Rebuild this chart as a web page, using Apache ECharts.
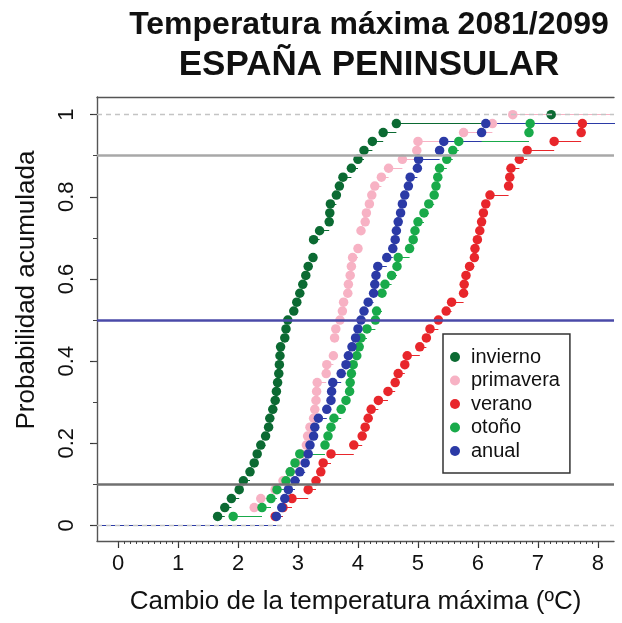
<!DOCTYPE html>
<html>
<head>
<meta charset="utf-8">
<script src="https://cdn.jsdelivr.net/npm/echarts@6/dist/echarts.min.js"></script>
<style>
html,body{margin:0;padding:0;background:#fff;}
#chart{width:622px;height:623px;}
</style>
</head>
<body>
<div id="chart"></div>
<script>
// ---- data (sorted values, 46 per series) ----
const seriesNames = ['invierno', 'primavera', 'verano', 'otoño', 'anual'];
const invierno = [1.66,1.78,1.89,2.02,2.09,2.20,2.27,2.32,2.38,2.46,2.51,2.53,2.58,2.62,2.64,2.66,2.68,2.69,2.70,2.71,2.78,2.80,2.83,2.93,2.98,3.03,3.08,3.13,3.17,3.25,3.26,3.26,3.36,3.52,3.53,3.54,3.64,3.69,3.75,3.89,4.00,4.10,4.24,4.42,4.64,7.22];
const primavera = [2.27,2.27,2.38,2.62,2.75,2.87,2.97,3.05,3.14,3.16,3.20,3.26,3.28,3.30,3.31,3.32,3.47,3.48,3.59,3.61,3.61,3.63,3.70,3.74,3.76,3.83,3.84,3.87,3.89,3.91,4.00,4.05,4.05,4.12,4.14,4.19,4.23,4.28,4.39,4.51,4.74,4.98,5.00,5.76,6.24,6.58];
const verano = [2.62,2.75,2.90,3.17,3.30,3.38,3.42,3.55,3.93,4.07,4.12,4.17,4.22,4.34,4.50,4.62,4.67,4.78,4.82,5.03,5.14,5.20,5.34,5.47,5.56,5.76,5.77,5.80,5.86,5.94,5.95,5.99,6.03,6.06,6.09,6.13,6.20,6.51,6.53,6.55,6.69,6.82,7.27,7.72,7.74,8.60];
const otono = [1.92,2.40,2.55,2.65,2.80,2.87,2.95,3.03,3.45,3.50,3.55,3.60,3.72,3.80,3.86,3.87,3.89,3.92,3.98,4.02,4.05,4.15,4.29,4.31,4.40,4.40,4.45,4.56,4.65,4.67,4.86,4.92,4.95,5.00,5.10,5.18,5.27,5.30,5.33,5.36,5.48,5.58,5.68,6.85,6.87,8.60];
const anual = [2.64,2.73,2.78,2.84,2.95,3.03,3.12,3.17,3.20,3.26,3.28,3.34,3.48,3.55,3.56,3.58,3.72,3.80,3.84,3.90,3.96,4.00,4.05,4.10,4.17,4.26,4.28,4.30,4.33,4.48,4.58,4.62,4.64,4.67,4.71,4.74,4.78,4.84,4.87,4.99,5.01,5.36,5.43,6.06,6.13,8.60];
const xTickValues = [0,1,2,3,4,5,6,7,8];
const yTickValues = [0,0.2,0.4,0.6,0.8,1];
const yTickLabels = ['0','0.2','0.4','0.6','0.8','1'];
const refLevels = [0.1, 0.5, 0.9];
const titleLine1 = 'Temperatura máxima 2081/2099';
const titleLine2 = 'ESPAÑA PENINSULAR';
const xTitle = 'Cambio de la temperatura máxima (ºC)';
const yTitle = 'Probabilidad acumulada';

// ---- presentation ----
const colors = ['#0b6a32', '#f7b2c4', '#e8262b', '#19aa4a', '#2b3aa6'];
const XMIN = -0.35, XMAX = 8.267, YMIN = -0.038, YMAX = 1.043;
const FONT = '"Liberation Sans", Arial, Helvetica, sans-serif';

const allData = [invierno, primavera, verano, otono, anual];

function ecdf(vals) {
  const v = vals.slice().sort((a, b) => a - b);
  const n = v.length;
  const knots = [];
  for (let i = 0; i < n; i++) {
    if (i < n - 1 && v[i + 1] === v[i]) continue;
    knots.push([v[i], (i + 1) / n]);
  }
  return knots;
}

const minorX = [];
for (let k = 0; k <= 80; k++) minorX.push(+(k / 10).toFixed(2));
const minorY = [];
for (let k = 0; k <= 10; k++) minorY.push(+(k / 10).toFixed(2));

const series = [];
series.push({
  type: 'line', data: [], silent: true, z: 1,
  markLine: {
    silent: true, symbol: 'none', label: { show: false }, animation: false,
    data: [
      { yAxis: refLevels[0], lineStyle: { color: '#707070', width: 2.5, type: 'solid' } },
      { yAxis: refLevels[1], lineStyle: { color: '#4a4aa8', width: 2.5, type: 'solid' } },
      { yAxis: refLevels[2], lineStyle: { color: '#a8a8a8', width: 2.5, type: 'solid' } }
    ]
  }
});
allData.forEach((vals, si) => {
  const knots = ecdf(vals);
  const segs = [{ coords: [[XMIN, 0], [knots[0][0], 0]] }];
  knots.forEach((kn, k) => {
    const xEnd = k < knots.length - 1 ? knots[k + 1][0] : Math.max(XMAX, kn[0]);
    segs.push({ coords: [[kn[0], kn[1]], [xEnd, kn[1]]] });
  });
  series.push({
    type: 'lines', name: seriesNames[si] + '_step', coordinateSystem: 'cartesian2d',
    data: segs, silent: true, z: 2, clip: true,
    lineStyle: { color: colors[si], width: 1, opacity: 1 }
  });
});
series.push({
  type: 'line', data: [], silent: true, z: 3,
  markLine: {
    silent: true, symbol: 'none', label: { show: false }, animation: false,
    lineStyle: { color: '#c4c4c4', width: 1.3, type: [5, 4] },
    data: [{ yAxis: 0 }, { yAxis: 1 }]
  }
});
allData.forEach((vals, si) => {
  series.push({
    type: 'scatter', name: seriesNames[si], data: ecdf(vals),
    symbol: 'circle', symbolSize: 9.5, z: 4, clip: true,
    itemStyle: { color: colors[si], opacity: 1 }
  });
});

const chart = echarts.init(document.getElementById('chart'), null, { renderer: 'canvas' });
chart.setOption({
  animation: false,
  backgroundColor: '#ffffff',
  title: {
    text: '{a|' + titleLine1 + '}\n{b|' + titleLine2 + '}', left: 364, top: 0, textAlign: 'center',
    textStyle: {
      rich: {
        a: { fontFamily: FONT, fontSize: 32, fontWeight: 'bold', color: '#111', lineHeight: 40, align: 'center' },
        b: { fontFamily: FONT, fontSize: 35, fontWeight: 'bold', color: '#111', lineHeight: 41, align: 'center' }
      }
    }
  },
  grid: { left: 97, right: 8, top: 97, bottom: 82, containLabel: false },
  xAxis: [
    {
      type: 'value', min: XMIN, max: XMAX, position: 'bottom',
      axisLine: { show: true, onZero: false, lineStyle: { color: '#555', width: 1.4 } },
      axisTick: { show: true, customValues: xTickValues, length: 7, lineStyle: { color: '#333', width: 1.2 } },
      axisLabel: { customValues: xTickValues, formatter: v => String(v), fontFamily: FONT, fontSize: 22, color: '#111', margin: 12 },
      splitLine: { show: false },
      name: xTitle, nameLocation: 'middle', nameGap: 48,
      nameTextStyle: { fontFamily: FONT, fontSize: 26, color: '#111' }
    },
    {
      type: 'value', min: XMIN, max: XMAX, position: 'bottom',
      axisLine: { show: false, onZero: false },
      axisTick: { show: true, customValues: minorX, length: 3, lineStyle: { color: '#444', width: 1 } },
      axisLabel: { show: false }, splitLine: { show: false }
    },
    {
      type: 'value', min: XMIN, max: XMAX, position: 'top',
      axisLine: { show: true, onZero: false, lineStyle: { color: '#555', width: 1.4 } },
      axisTick: { show: false }, axisLabel: { show: false }, splitLine: { show: false }
    }
  ],
  yAxis: [
    {
      type: 'value', min: YMIN, max: YMAX, position: 'left',
      axisLine: { show: true, onZero: false, lineStyle: { color: '#555', width: 1.4 } },
      axisTick: { show: true, customValues: yTickValues, length: 7, lineStyle: { color: '#333', width: 1.2 } },
      axisLabel: {
        customValues: yTickValues,
        formatter: v => yTickLabels[yTickValues.findIndex(t => Math.abs(t - v) < 1e-6)],
        rotate: 90, fontFamily: FONT, fontSize: 22, color: '#111', margin: 19
      },
      splitLine: { show: false }
    },
    {
      type: 'value', min: YMIN, max: YMAX, position: 'left',
      axisLine: { show: false, onZero: false },
      axisTick: { show: true, customValues: minorY, length: 4, lineStyle: { color: '#444', width: 1 } },
      axisLabel: { show: false }, splitLine: { show: false }
    }
  ],
  legend: {
    data: seriesNames, orient: 'vertical', left: 443, top: 334,
    icon: 'circle', itemWidth: 22, itemHeight: 10, itemGap: 3.5,
    padding: [13, 10, 12, 7],
    backgroundColor: '#fff', borderColor: '#333', borderWidth: 1.5, borderRadius: 0,
    textStyle: { fontFamily: FONT, fontSize: 20, color: '#111', lineHeight: 20 },
    selectedMode: false
  },
  graphic: [{
    type: 'text', x: 27, y: 290, rotation: Math.PI / 2,
    style: { text: yTitle, textAlign: 'center', textVerticalAlign: 'middle', font: '26px ' + FONT, fill: '#111' }
  }],
  series: series
});
</script>
</body>
</html>
